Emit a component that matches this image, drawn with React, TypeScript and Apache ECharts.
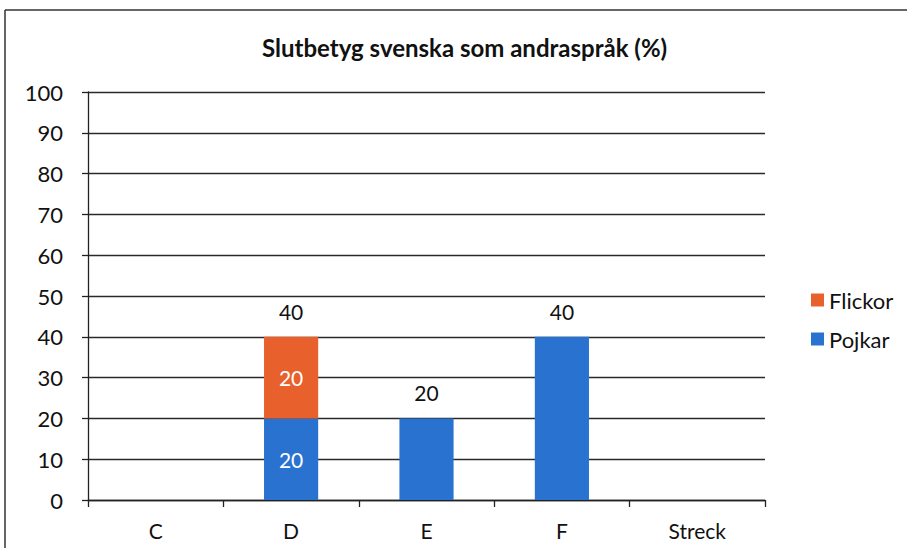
import React, { useEffect, useRef } from "react";
import * as echarts from "echarts";

const categories = ["C", "D", "E", "F", "Streck"];
const pojkar = [0, 20, 20, 40, 0];
const flickor = [0, 20, 0, 0, 0];
const yTicks = [0, 10, 20, 30, 40, 50, 60, 70, 80, 90, 100];

const FONT = "Lato, 'Open Sans', sans-serif";

export default function App() {
  const ref = useRef<HTMLDivElement>(null);
  useEffect(() => {
    document.body.style.margin = "0";
    const chart = echarts.init(ref.current!, null, { renderer: "svg" });
    const totals = categories.map((_, i) => pojkar[i] + flickor[i]);
    chart.setOption({
      animation: false,
      backgroundColor: "#fff",
      textStyle: { fontFamily: FONT },
      title: {
        text: "Slutbetyg svenska som andraspråk (%)",
        left: 257,
        top: 30,
        padding: 5,
        textStyle: { fontFamily: FONT, fontSize: 24, fontWeight: "bold", color: "#111" },
      },
      legend: {
        orient: "vertical",
        left: 806,
        top: 284,
        itemWidth: 13,
        itemHeight: 13,
        itemGap: 17,
        data: ["Flickor", "Pojkar"],
        icon: "rect",
        textStyle: { fontFamily: FONT, fontSize: 22, color: "#111" },
      },
      grid: { left: 88, right: 142, top: 92, bottom: 59 },
      xAxis: {
        type: "category",
        data: categories,
        axisLine: { lineStyle: { color: "#222", width: 1.3 } },
        axisTick: { show: true, length: 7, lineStyle: { color: "#222", width: 1.3 } },
        axisLabel: { fontFamily: FONT, fontSize: 21, color: "#111", margin: 20 },
      },
      yAxis: {
        type: "value",
        min: yTicks[0],
        max: yTicks[yTicks.length - 1],
        interval: 10,
        axisLine: { show: true, lineStyle: { color: "#222", width: 1.3 } },
        axisTick: { show: true, length: 6, lineStyle: { color: "#222", width: 1.3 } },
        axisLabel: { fontFamily: FONT, fontSize: 22, color: "#111", margin: 25 },
        splitLine: { lineStyle: { color: "#2a2a2a", width: 1.3 } },
      },
      series: [
        {
          name: "Pojkar",
          type: "bar",
          stack: "a",
          barCategoryGap: "60%",
          itemStyle: { color: "#2A72D0" },
          data: pojkar.map((v, i) => ({
            value: v,
            label: {
              show: flickor[i] > 0 && v > 0,
              position: "inside",
              color: "#fff",
              fontFamily: FONT,
              fontSize: 21,
            },
          })),
        },
        {
          name: "Flickor",
          type: "bar",
          stack: "a",
          itemStyle: { color: "#E8612C" },
          data: flickor.map((v) => ({
            value: v,
            label: {
              show: v > 0,
              position: "inside",
              color: "#fff",
              fontFamily: FONT,
              fontSize: 21,
            },
          })),
        },
        {
          name: "Total",
          type: "bar",
          stack: "a",
          itemStyle: { color: "transparent" },
          data: totals.map((t) => ({
            value: 0,
            label: {
              show: t > 0,
              position: "top",
              distance: 15,
              formatter: String(t),
              color: "#111",
              fontFamily: FONT,
              fontSize: 21,
            },
          })),
        },
      ],
      graphic: [
        { type: "line", shape: { x1: 5, y1: 10, x2: 907, y2: 10 }, style: { stroke: "#333", lineWidth: 1.5 } },
        { type: "line", shape: { x1: 5, y1: 10, x2: 5, y2: 548 }, style: { stroke: "#333", lineWidth: 1.5 } },
      ],
    });
    return () => chart.dispose();
  }, []);
  return <div ref={ref} style={{ width: 907, height: 559 }} />;
}
